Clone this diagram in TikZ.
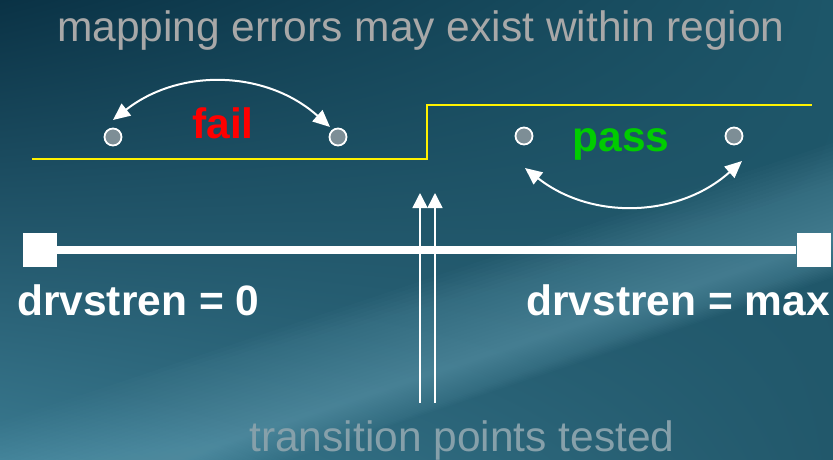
\documentclass[tikz,border=0pt]{standalone}
\usepackage{fontspec}
\setmainfont{Liberation Sans}
\usetikzlibrary{arrows.meta,shadings}

\definecolor{bgUL}{HTML}{0A3245}
\definecolor{bgUR}{HTML}{1D5669}
\definecolor{bgLL}{HTML}{3A7A90}
\definecolor{bgLR}{HTML}{22586B}
\definecolor{streak}{HTML}{6AA4B8}
\definecolor{titlegray}{HTML}{A8A8A8}
\definecolor{footgray}{HTML}{86A0AA}
\definecolor{dotgray}{HTML}{7D8E96}
\definecolor{failred}{HTML}{FF0000}
\definecolor{passgreen}{HTML}{00CC00}

\newcommand{\bigfont}{\fontsize{42.5}{50}\selectfont}

\begin{document}
\begin{tikzpicture}[x=1pt, y=-1pt,
  txt/.style={inner sep=0pt, font=\bigfont, anchor=base},
  lbl/.style={inner sep=0pt, font=\bigfont\bfseries, text=white},
  dot/.style={circle, draw=white, line width=1.8pt, fill=dotgray, minimum size=17pt, inner sep=0pt},
  stopbox/.style={rectangle, fill=white, minimum size=34pt, inner sep=0pt},
  arr/.style={{Triangle[length=17pt,width=15pt]}-{Triangle[length=17pt,width=15pt]}, white, line width=2pt},
  uparr/.style={-{Triangle[length=15pt,width=15pt]}, white, line width=1.5pt}]

  % Background
  \useasboundingbox (0,0) rectangle (833,460);
  \shade[upper left=bgUL, upper right=bgUR, lower left=bgLL, lower right=bgLR]
    (0,0) rectangle (833,460);
  \begin{scope}
    \clip (0,0) rectangle (833,460);
    % soft light streak, built from thin see-through bands
    \foreach \w in {4,8,...,96}
      \fill[streak, opacity=0.035]
        (-20,{525-\w}) -- (860,{230-\w}) -- (860,{230+\w*0.4}) -- (-20,{525+\w*0.4}) -- cycle;
  \end{scope}

  % Titles
  \node[txt, text=titlegray] (head) at (421,42) {mapping errors may exist within region};
  \node[txt, text=footgray] (foot) at (462,451) {transition points tested};

  % Pass / fail boundary
  \draw[yellow, line width=2.8pt] (32,159) -- (427,159) -- (427,105) -- (812,105);

  % Sample points
  \node[dot] (f1) at (113,137) {};
  \node[dot] (f2) at (338,137) {};
  \node[dot] (p1) at (524,136) {};
  \node[dot] (p2) at (734,136) {};

  \node[txt, font=\bigfont\bfseries, text=failred] (fail) at (223,138) {fail};
  \node[txt, font=\bigfont\bfseries, text=passgreen] (pass) at (621,151) {pass};

  % Swaps within each region
  \coordinate (failL) at (113,120);
  \coordinate (failR) at (330,127);
  \coordinate (passL) at (525,168);
  \coordinate (passR) at (742,161);
  \draw[arr] (failL) to[bend left=40] (failR);
  \draw[arr] (passL) to[bend right=40] (passR);

  % Drive strength scale
  \node[stopbox] (lo) at (40,249.5) {};
  \node[stopbox] (hi) at (813.5,249.5) {};
  \draw[white, line width=8pt] (lo) -- (hi);
  \node[lbl, anchor=base west] (zero) at (17,315) {drvstren = 0};
  \node[lbl, anchor=base east] (max) at (830,315) {drvstren = max};

  % Tested transition points
  \coordinate (t1) at (420,403);
  \coordinate (h1) at (420,193);
  \coordinate (t2) at (435,403);
  \coordinate (h2) at (435,193);
  \draw[uparr] (t1) -- (h1);
  \draw[uparr] (t2) -- (h2);
\end{tikzpicture}
\end{document}
